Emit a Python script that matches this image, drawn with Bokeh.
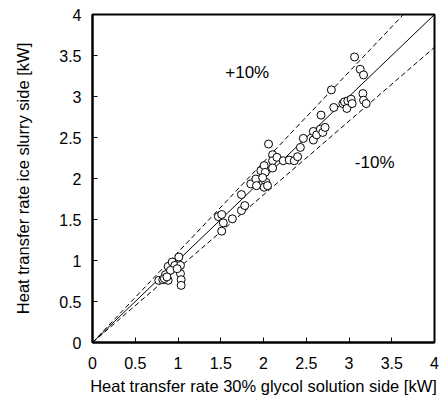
from bokeh.plotting import figure
from bokeh.models import Range1d, FixedTicker, Label
from bokeh.embed import file_html
from bokeh.resources import INLINE

glycol_kw = [0.775, 0.822, 0.853, 0.885, 0.885, 0.932, 0.963, 0.912, 1.010, 1.029, 1.029, 1.037, 1.037, 0.990, 0.840, 0.870,
             1.472, 1.511, 1.530, 1.511, 1.636, 1.742, 1.742, 1.781,
             1.851, 1.910, 1.918, 1.969, 2.008, 2.020, 2.028, 2.008, 2.047, 1.990, 2.059, 2.106, 2.106, 2.106,
             2.157, 2.231, 2.301, 2.360, 2.399, 2.431, 2.466,
             2.583, 2.583, 2.622, 2.665, 2.693, 2.720, 2.673, 2.794, 2.822,
             2.928, 2.947, 2.975, 2.986, 3.025, 3.037, 3.065, 3.131, 3.170, 3.162, 3.170, 3.201]
slurry_kw = [0.758, 0.766, 0.827, 0.758, 0.928, 0.981, 0.940, 0.880, 1.042, 0.940, 0.839, 0.766, 0.697, 0.900, 0.780, 0.800,
             1.536, 1.561, 1.459, 1.358, 1.508, 1.804, 1.609, 1.670,
             1.934, 1.994, 1.913, 2.096, 2.157, 2.075, 1.954, 1.893, 1.913, 2.010, 2.420, 2.290, 2.217, 2.128,
             2.258, 2.217, 2.225, 2.217, 2.266, 2.379, 2.489,
             2.574, 2.469, 2.533, 2.602, 2.562, 2.623, 2.773, 3.081, 2.866,
             2.914, 2.935, 2.854, 2.947, 2.967, 2.914, 3.482, 3.332, 3.263, 3.036, 2.955, 2.914]

line_x = [0, 4]
band = 0.10
ticks = [0, 0.5, 1, 1.5, 2, 2.5, 3, 3.5, 4]
tick_labels = {0: "0", 0.5: "0.5", 1: "1", 1.5: "1.5", 2: "2", 2.5: "2.5", 3: "3", 3.5: "3.5", 4: "4"}

FONT = "Liberation Sans"

p = figure(frame_width=342, frame_height=328, output_backend="svg", toolbar_location=None,
           x_range=Range1d(0, 4), y_range=Range1d(0, 4),
           min_border_left=92, min_border_right=8, min_border_top=14, min_border_bottom=54)
p.grid.visible = False
p.outline_line_color = "black"
p.outline_line_width = 2

# reference lines
p.line(line_x, line_x, line_color="black", line_width=1)
p.line(line_x, [v * (1 + band) for v in line_x], line_color="black", line_width=1, line_dash="5 3")
p.line(line_x, [v * (1 - band) for v in line_x], line_color="black", line_width=1, line_dash="5 3")

p.scatter(glycol_kw, slurry_kw, marker="circle", size=8, fill_color="white",
          line_color="black", line_width=1)

for ax in (p.xaxis[0], p.yaxis[0]):
    ax.ticker = FixedTicker(ticks=ticks)
    ax.major_label_overrides = tick_labels
    ax.major_tick_in = 5
    ax.major_tick_out = 0
    ax.minor_tick_in = 0
    ax.minor_tick_out = 0
    ax.axis_line_width = 2
    ax.major_tick_line_width = 1
    ax.major_label_text_font = FONT
    ax.major_label_text_font_size = "16px"
    ax.major_label_text_color = "black"
    ax.axis_label_text_font = FONT
    ax.axis_label_text_font_size = "16.5px"
    ax.axis_label_text_font_style = "normal"
    ax.axis_label_text_color = "black"

p.xaxis.axis_label = "Heat transfer rate 30% glycol solution side [kW]"
p.yaxis.axis_label = "Heat transfer rate ice slurry side [kW]"
p.xaxis.major_label_standoff = 14
p.yaxis.major_label_standoff = 11
p.xaxis.axis_label_standoff = 5
p.yaxis.axis_label_standoff = 24

p.add_layout(Label(x=1.81, y=3.29, text="+10%", text_align="center", text_baseline="middle",
                   text_font=FONT, text_font_size="17px", text_color="black"))
p.add_layout(Label(x=3.30, y=2.20, text="-10%", text_align="center", text_baseline="middle",
                   text_font=FONT, text_font_size="17px", text_color="black"))

open("out.html", "w").write(file_html(p, INLINE))
